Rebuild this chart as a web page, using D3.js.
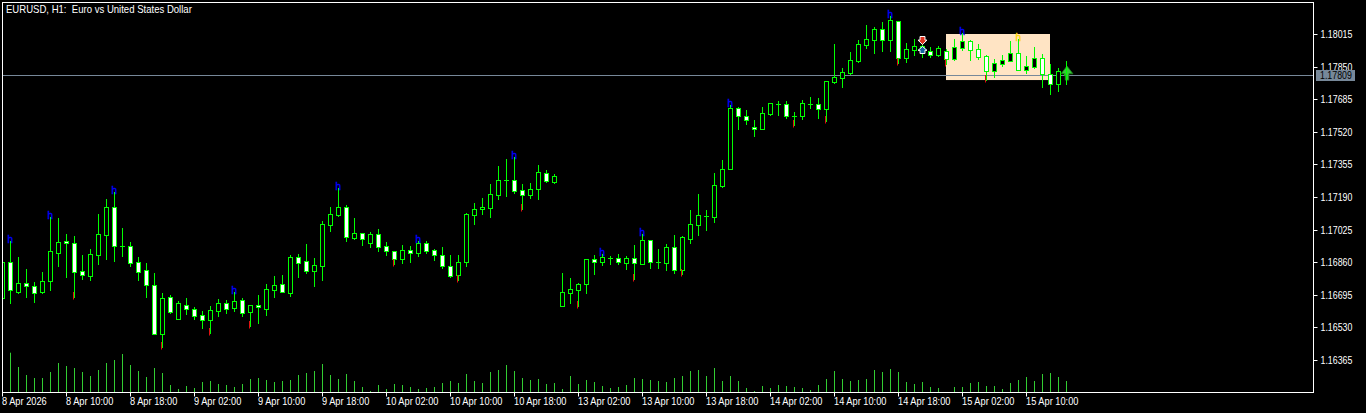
<!DOCTYPE html>
<html><head><meta charset="utf-8">
<style>html,body{margin:0;background:#000;overflow:hidden}svg{display:block}
text{font-family:"Liberation Sans",Arial,sans-serif;font-size:10.5px;fill:#fff}</style>
<script src="https://cdn.jsdelivr.net/npm/d3@7"></script></head><body><svg id="c" width="1366" height="413"></svg>
<script>
const title="EURUSD, H1:  Euro vs United States Dollar";
const priceTicks=[1.18015,1.1785,1.17685,1.1752,1.17355,1.1719,1.17025,1.1686,1.16695,1.1653,1.16365];
const timeTickIndex=[0,8,16,24,32,40,48,56,64,72,80,88,96,104,112,120,128];
const timeLabels=["8 Apr 2026","8 Apr 10:00","8 Apr 18:00","9 Apr 02:00","9 Apr 10:00","9 Apr 18:00","10 Apr 02:00","10 Apr 10:00","10 Apr 18:00","13 Apr 02:00","13 Apr 10:00","13 Apr 18:00","14 Apr 02:00","14 Apr 10:00","14 Apr 18:00","15 Apr 02:00","15 Apr 10:00"];
const currentPrice=1.17809;
// prices in 1e-5 units (points)
const opens=[116679,116861,116709,116755,116740,116709,116765,116907,116967,116957,116815,116790,116896,116998,117139,116942,116942,116861,116820,116745,116497,116684,116572,116643,116623,116593,116567,116613,116654,116628,116669,116608,116643,116623,116719,116750,116704,116886,116866,116815,116841,117048,117099,117139,116983,117008,116957,117003,116942,116917,116876,116922,116907,116957,116922,116896,116841,116795,116861,117099,117129,117134,117200,117276,117276,117225,117200,117231,117311,117266,116638,116704,116719,116750,116876,116861,116881,116881,116856,116881,116851,116972,116861,116856,116937,116820,116977,117048,117094,117089,117246,117332,117640,117600,117544,117534,117610,117661,117661,117600,117600,117661,117661,117635,117772,117792,117818,117878,117959,117985,118040,117985,118081,117893,117934,117934,117929,117909,117929,117888,117944,117980,117939,117904,117828,117863,117878,117919,117833,117848,117893,117812,117762,117828];
const highs=[116881,116967,116886,116826,116760,116810,117089,117084,117003,116993,116896,116927,117104,117180,117215,117033,116962,116886,116856,116805,116704,116694,116664,116679,116633,116613,116638,116674,116669,116709,116679,116643,116694,116750,116790,116795,116896,116901,116952,116881,117068,117139,117236,117150,117084,117008,117013,117028,116962,116917,116947,116942,116967,116967,116927,116937,116896,116896,117109,117160,117185,117256,117347,117382,117392,117256,117261,117352,117327,117306,116805,116780,116755,116876,116896,116901,116891,116901,116891,116947,117003,116972,116927,116952,116998,116993,117124,117205,117124,117311,117377,117656,117645,117630,117580,117645,117666,117676,117676,117620,117681,117696,117691,117777,117964,117843,117924,117985,118060,118050,118076,118106,118081,117969,117990,117990,117949,117954,117939,117990,118020,117985,117964,117909,117888,117909,117980,117990,117904,117949,117914,117863,117843,117878];
const lows=[116669,116654,116704,116684,116659,116704,116719,116841,116785,116684,116775,116770,116851,116876,116866,116891,116841,116770,116684,116497,116431,116603,116572,116598,116572,116527,116502,116588,116603,116613,116588,116537,116552,116593,116684,116709,116689,116785,116805,116740,116770,117018,117094,116967,116977,116947,116937,116917,116896,116851,116856,116861,116891,116907,116871,116831,116785,116770,116841,117053,117104,117089,117180,117195,117210,117129,117185,117180,117266,117261,116638,116654,116638,116704,116800,116846,116851,116851,116826,116775,116851,116831,116831,116820,116805,116800,116957,116998,117023,117063,117241,117332,117534,117559,117499,117534,117605,117605,117590,117554,117585,117640,117590,117575,117767,117747,117812,117873,117944,117919,117929,117929,117868,117873,117909,117899,117899,117904,117863,117883,117934,117883,117888,117782,117797,117853,117878,117833,117818,117843,117747,117711,117726,117762];
const closes=[116861,116719,116755,116740,116704,116765,116917,116962,116957,116810,116795,116901,117003,117139,116942,116942,116856,116810,116745,116497,116679,116608,116654,116623,116588,116567,116618,116654,116623,116664,116603,116643,116633,116724,116745,116709,116886,116856,116815,116846,117053,117104,117139,116988,117008,116977,117003,116937,116917,116876,116922,116907,116957,116917,116896,116841,116790,116861,117104,117129,117139,117205,117276,117276,117220,117200,117231,117317,117271,117296,116709,116724,116750,116876,116861,116886,116881,116861,116881,116856,116972,116861,116861,116937,116820,116988,117053,117099,117094,117251,117332,117640,117600,117580,117534,117615,117666,117661,117600,117600,117666,117661,117635,117777,117797,117823,117883,117964,117990,118040,117985,118086,117893,117939,117954,117954,117909,117944,117888,117949,117980,117934,117899,117828,117868,117883,117919,117833,117853,117893,117812,117762,117828,117809];
const volumes=[0,393,250,170,140,140,200,290,260,240,200,160,220,290,320,380,270,210,150,240,190,70,30,60,40,100,110,80,70,50,80,130,140,120,100,110,120,170,190,210,280,170,130,180,110,50,10,70,30,80,70,50,30,40,50,90,110,90,180,110,90,200,220,270,210,140,120,130,80,90,30,160,80,120,100,60,40,50,70,140,130,120,110,100,140,160,210,220,160,240,110,160,110,40,10,60,40,70,60,50,40,20,70,130,210,130,110,120,130,220,200,230,200,100,80,100,50,40,0,50,50,90,100,60,60,30,90,120,150,110,180,190,150,110];
const fractalHighIdx=[1,6,14,29,42,52,64,75,80,91,111,120];
const yellowHighIdx=[127];
const fractalLowIdx=[9,20,26,31,49,57,65,72,79,85,99,103,112,118,123];
const zoneStartIdx=118, zoneEndIdx=131, zoneHigh=1.18015, zoneLow=1.17787;
const sellSignal={i:115,p:1.17982}, buySignal={i:115,p:1.17934}, lastSignal={i:133,p:1.17817};

const svg=d3.select("#c");
const pt=v=>v/1e5;
const x=d3.scaleLinear().domain([0,133]).range([2,1066]);
const y=d3.scaleLinear().domain([1.18015,1.16365]).range([34,360]);
const vol=d3.scaleLinear().domain([0,393]).range([392,352.7]);
const px=i=>x(i)+.5, py=p=>Math.round(y(p))+.5;
const fit=(sel,k)=>sel.each(function(){this.setAttribute("lengthAdjust","spacingAndGlyphs");this.setAttribute("textLength",this.getComputedTextLength()*k);});
svg.append("defs").append("clipPath").attr("id","plot").append("rect").attr("x",3).attr("y",3).attr("width",1310).attr("height",389);
const plot=svg.append("g").attr("clip-path","url(#plot)");
plot.append("rect").attr("x",x(zoneStartIdx)).attr("width",x(zoneEndIdx)-x(zoneStartIdx))
 .attr("y",y(zoneHigh)).attr("height",y(zoneLow)-y(zoneHigh)+1).attr("fill","#ffe4c4");
plot.append("line").attr("x1",3).attr("x2",1313).attr("y1",py(currentPrice)).attr("y2",py(currentPrice)).attr("stroke","#778899");
plot.selectAll(".v").data(volumes).join("line").attr("class","v")
 .attr("x1",(d,i)=>px(i)).attr("x2",(d,i)=>px(i)).attr("y1",392).attr("y2",d=>vol(d))
 .attr("stroke","#32cd32").attr("visibility",d=>d>0?"visible":"hidden");
const idx=d3.range(opens.length);
plot.selectAll(".w").data(idx).join("line").attr("class","w")
 .attr("x1",px).attr("x2",px).attr("y1",i=>py(pt(highs[i]))-.5).attr("y2",i=>py(pt(lows[i]))+.5).attr("stroke","#00ff00");
plot.selectAll(".b").data(idx.filter(i=>opens[i]!==closes[i])).join("rect").attr("class","b")
 .attr("x",i=>px(i)-2).attr("width",4)
 .attr("y",i=>py(pt(Math.max(opens[i],closes[i]))))
 .attr("height",i=>py(pt(Math.min(opens[i],closes[i])))-py(pt(Math.max(opens[i],closes[i]))))
 .attr("fill",i=>closes[i]>opens[i]?"#000":"#fff").attr("stroke","#00ff00");
plot.selectAll(".d").data(idx.filter(i=>opens[i]===closes[i])).join("line").attr("class","d")
 .attr("x1",i=>x(i)-2).attr("x2",i=>x(i)+3).attr("y1",i=>py(pt(opens[i]))).attr("y2",i=>py(pt(opens[i]))).attr("stroke","#00ff00");
const mark=(list,c)=>plot.selectAll(".m"+c.slice(1)).data(list).join("text").attr("class","m"+c.slice(1))
 .attr("x",i=>x(i)-2.5).attr("y",i=>py(pt(highs[i]))+1.5).text("h").style("fill",c).style("stroke",c).style("stroke-width",.35).style("font-size","10px");
mark(fractalHighIdx,"#0000ff"); mark(yellowHighIdx,"#ffd700");
plot.selectAll(".r").data(fractalLowIdx).join("line").attr("class","r")
 .attr("x1",i=>px(i)-1).attr("x2",i=>px(i)-1).attr("y1",i=>py(pt(lows[i]))-5.5).attr("y2",i=>py(pt(lows[i]))+2)
 .attr("stroke","#e01010");
const arrow=(dir,w,h,sh)=>{const a=w/2,hh=h/2,d=dir,m=(-hh+h*.55)*d,s=a*sh;
 return `M0,${-hh*d}L${a},${m}L${s},${m}L${s},${hh*d}L${-s},${hh*d}L${-s},${m}L${-a},${m}Z`;};
plot.append("path").attr("d",arrow(-1,9,8,.55)).attr("transform",`translate(${px(sellSignal.i)},${y(sellSignal.p)})`).attr("fill","#e0301e").attr("stroke","#fff");
plot.append("path").attr("d",arrow(1,9,7,.55)).attr("transform",`translate(${px(buySignal.i)},${y(buySignal.p)})`).attr("fill","#1565a0").attr("stroke","#fff");
plot.append("path").attr("d",arrow(1,12,14,.3)).attr("transform",`translate(${px(lastSignal.i)+.5},${y(lastSignal.p)})`).attr("fill","#32cd32").attr("stroke","#1a7a1a").attr("stroke-width",.8);
plot.append("line").attr("x1",px(133)).attr("x2",px(133)).attr("y1",py(pt(highs[133]))).attr("y2",py(pt(lows[133]))).attr("stroke","#00ff00");
svg.append("rect").attr("x",2.5).attr("y",2.5).attr("width",1311).attr("height",390).attr("fill","none").attr("stroke","#fff");
const ax=d3.axisRight(y).tickValues(priceTicks).tickSize(4).tickPadding(3).tickFormat(d3.format(".5f"));
const gy=svg.append("g").attr("transform","translate(1313.5,0)").call(ax);
gy.select(".domain").remove();
gy.selectAll(".tick").attr("transform",d=>`translate(0,${py(d)})`);
gy.selectAll("line").attr("stroke","#fff");
const bx=d3.axisBottom(x).tickValues(timeTickIndex).tickSize(4).tickPadding(4).tickFormat((d,k)=>timeLabels[k]);
const gx=svg.append("g").attr("transform","translate(0,392.5)").call(bx);
gx.select(".domain").remove();
gx.selectAll("line").attr("stroke","#fff");
svg.selectAll(".tick text").style("font-family",'"Liberation Sans"').style("font-size","10.5px").style("fill","#fff");
gx.selectAll("text").attr("text-anchor","start").attr("x",-.5).attr("dy",null).attr("y",12.5);
gy.selectAll("text").attr("dy",null).attr("y",3);
fit(gx.selectAll("text"),.88); fit(gy.selectAll("text"),.84);
const lab=svg.append("g").attr("transform",`translate(1316,${py(currentPrice)-5.5})`);
lab.append("rect").attr("width",39).attr("height",11).attr("fill","#778899");
fit(lab.append("text").attr("x",4).attr("y",9).text(d3.format(".5f")(currentPrice)).style("fill","#000"),.84);
fit(svg.append("text").attr("x",6).attr("y",13).attr("xml:space","preserve").style("white-space","pre").text(title),.91);
</script></body></html>
